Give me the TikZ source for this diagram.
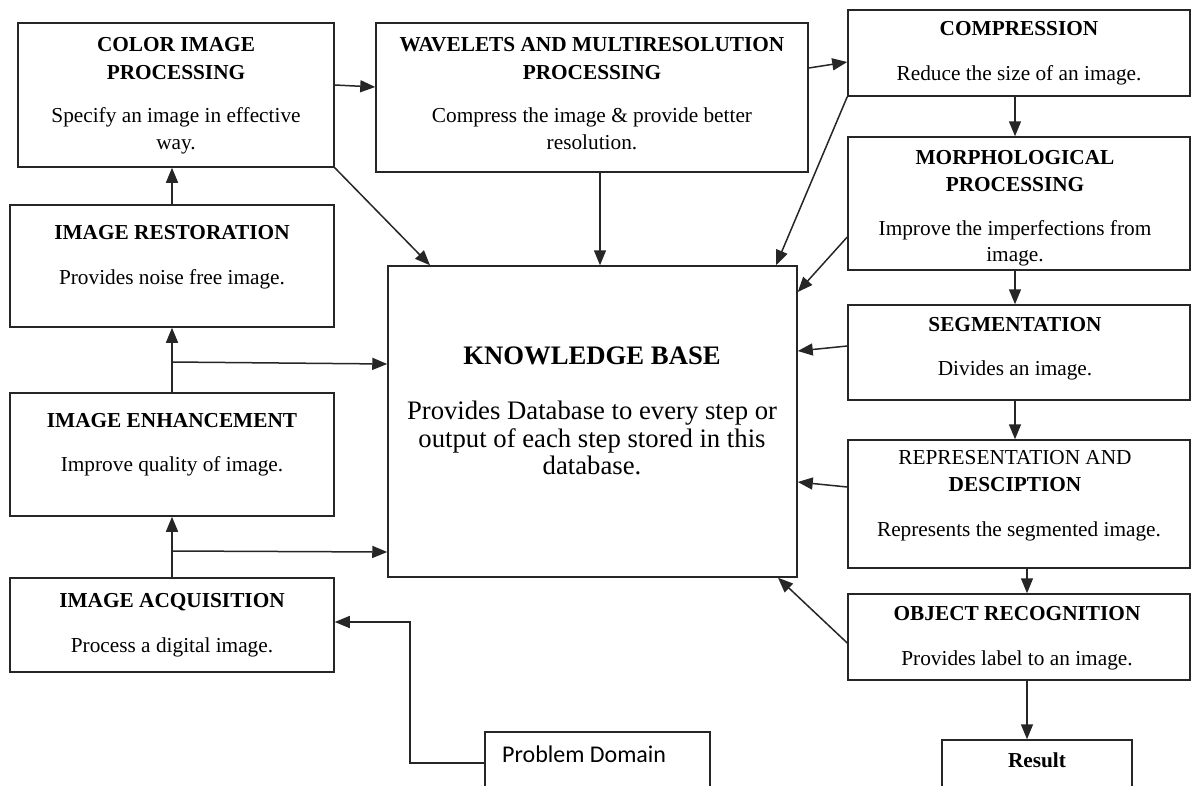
\documentclass[tikz,border=0pt]{standalone}
\usepackage{fontspec}
\setmainfont{Liberation Serif}
\newfontfamily\pdfont{Carlito}
\usetikzlibrary{arrows.meta,calc}
\begin{document}
\begin{tikzpicture}[x=1pt,y=-1pt,
  box/.style={draw=black!85,line width=1.5pt,inner sep=0pt,rectangle},
  tl/.style={anchor=base,inner sep=0pt,font=\fontsize{21.3}{24}\selectfont\bfseries},
  dl/.style={anchor=base,inner sep=0pt,font=\fontsize{21.3}{24}\selectfont},
  kbt/.style={anchor=base,inner sep=0pt,font=\fontsize{26.7}{30}\selectfont\bfseries},
  kbd/.style={anchor=base,inner sep=0pt,font=\fontsize{26.7}{30}\selectfont},
  arr/.style={draw=black!85,line width=1.5pt,-{Triangle[length=15pt,width=12pt]}},
  ln/.style={draw=black!85,line width=1.5pt}]
\useasboundingbox (0,0) rectangle (1192,785);
\clip (0,0) rectangle (1192,785);
\fill[white] (0,0) rectangle (1192,785);
% boxes
\node[box,minimum width=316pt,minimum height=144pt] (col) at (176,95) {};
\node[box,minimum width=432pt,minimum height=149pt] (wav) at (592,97.5) {};
\node[box,minimum width=342pt,minimum height=86pt] (comp) at (1019,53) {};
\node[box,minimum width=342pt,minimum height=133pt] (morph) at (1019,203.5) {};
\node[box,minimum width=342pt,minimum height=95pt] (seg) at (1019,352.5) {};
\node[box,minimum width=342pt,minimum height=128pt] (rep) at (1019,504) {};
\node[box,minimum width=342pt,minimum height=86pt] (obj) at (1019,637) {};
\node[box,minimum width=190pt,minimum height=60pt] (res) at (1037,770) {};
\node[box,minimum width=409pt,minimum height=311pt] (kb) at (592.5,421.5) {};
\node[box,minimum width=324pt,minimum height=122pt] (rest) at (172,266) {};
\node[box,minimum width=324pt,minimum height=123pt] (enh) at (172,454.5) {};
\node[box,minimum width=324pt,minimum height=94pt] (acq) at (172,625) {};
\node[box,minimum width=225pt,minimum height=68pt] (pd) at (597.5,766) {};
% texts
\node[tl] (col1) at (176,51) {COLOR IMAGE};
\node[tl] (col2) at (176,79) {PROCESSING};
\node[dl] (col3) at (176,122) {Specify an image in effective};
\node[dl] (col4) at (176,149) {way.};
\node[tl] (wav1) at (592,51) {WAVELETS AND MULTIRESOLUTION};
\node[tl] (wav2) at (592,79) {PROCESSING};
\node[dl] (wav3) at (592,122) {Compress the image \& provide better};
\node[dl] (wav4) at (592,149) {resolution.};
\node[tl] (comp1) at (1019,35) {COMPRESSION};
\node[dl] (comp2) at (1019,80) {Reduce the size of an image.};
\node[tl] (mor1) at (1015,164) {MORPHOLOGICAL};
\node[tl] (mor2) at (1015,191) {PROCESSING};
\node[dl] (mor3) at (1015,235) {Improve the imperfections from};
\node[dl] (mor4) at (1015,261) {image.};
\node[tl] (seg1) at (1015,331) {SEGMENTATION};
\node[dl] (seg2) at (1015,375) {Divides an image.};
\node[dl] (rep1) at (1015,464) {REPRESENTATION AND};
\node[tl] (rep2) at (1015,491) {DESCIPTION};
\node[dl] (rep3) at (1019,536) {Represents the segmented image.};
\node[tl] (obj1) at (1017,620) {OBJECT RECOGNITION};
\node[dl] (obj2) at (1017,665) {Provides label to an image.};
\node[tl] (res1) at (1037,767) {Result};
\node[kbt] (kb1) at (592,364) {KNOWLEDGE BASE};
\node[kbd] (kb2) at (592,419) {Provides Database to every step or};
\node[kbd] (kb3) at (592,447) {output of each step stored in this};
\node[kbd] (kb4) at (592,474) {database.};
\node[tl] (rest1) at (172,239) {IMAGE RESTORATION};
\node[dl] (rest2) at (172,284) {Provides noise free image.};
\node[tl] (enh1) at (172,427) {IMAGE ENHANCEMENT};
\node[dl] (enh2) at (172,471) {Improve quality of image.};
\node[tl] (acq1) at (172,607) {IMAGE ACQUISITION};
\node[dl] (acq2) at (172,652) {Process a digital image.};
\node[anchor=base west,inner sep=0pt,font=\pdfont\fontsize{24}{28}\selectfont] (pd1) at (502,762) {Problem Domain};
% connectors
\draw[arr] (col.east |- 0,85) -- (wav.west |- 0,87);
\draw[arr] (wav.east |- 0,68) -- (comp.west |- 0,62);
\draw[arr] (comp.south -| 1015,0) -- (morph.north -| 1015,0);
\draw[arr] (morph.south -| 1015,0) -- (seg.north -| 1015,0);
\draw[arr] (seg.south -| 1015,0) -- (rep.north -| 1015,0);
\draw[arr] (rep.south -| 1027,0) -- (obj.north -| 1027,0);
\draw[arr] (obj.south -| 1027,0) -- (res.north -| 1027,0);
\draw[arr] (rest.north) -- (rest.north |- col.south);
\draw[arr] (enh.north) -- (rest.south);
\draw[arr] (acq.north) -- (enh.south);
\coordinate (b1) at (172,362);
\coordinate (b2) at (172,551);
\draw[arr] (b1) -- (kb.west |- 0,364);
\draw[arr] (b2) -- (kb.west |- 0,552);
\draw[arr] (col.south east) -- (kb.north -| 430,0);
\draw[arr] (wav.south -| 600,0) -- (kb.north -| 600,0);
\draw[arr] (comp.south west) -- (kb.north -| 776,0);
\draw[arr] (morph.west |- 0,237) -- (kb.east |- 0,292);
\draw[arr] (seg.west |- 0,346) -- (kb.east |- 0,351);
\draw[arr] (rep.west |- 0,487) -- (kb.east |- 0,482);
\draw[arr] (obj.west |- 0,643) -- (kb.south -| 778,0);
\draw[arr] (pd.west |- 0,763) -| (410,622) -- (acq.east |- 0,622);
\end{tikzpicture}
\end{document}
